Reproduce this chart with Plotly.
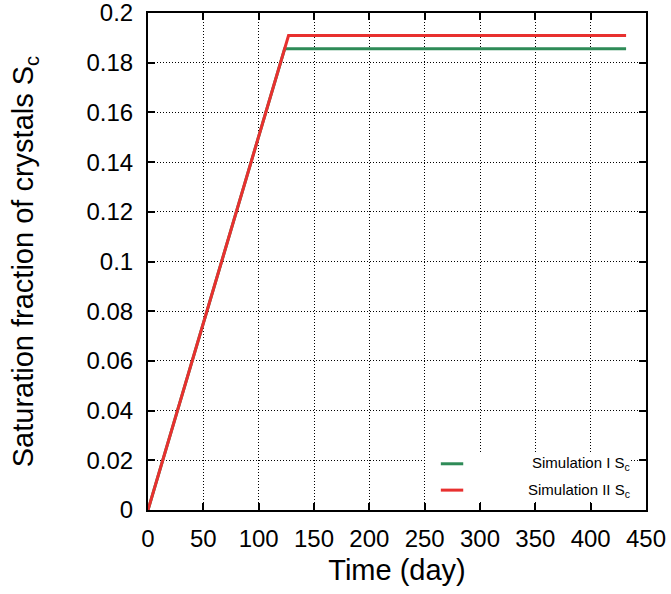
import plotly.graph_objects as go

time_I = [0, 123.5, 432]
sc_I = [0, 0.1856, 0.1856]
time_II = [0, 127, 432]
sc_II = [0, 0.1909, 0.1909]
series_names = ["Simulation I S<sub>c</sub>", "Simulation II S<sub>c</sub>"]
colors = ["#2e8b57", "#e8302f"]
x_ticks = [0, 50, 100, 150, 200, 250, 300, 350, 400, 450]
y_ticks = [0, 0.02, 0.04, 0.06, 0.08, 0.1, 0.12, 0.14, 0.16, 0.18, 0.2]
y_tick_text = ["0", "0.02", "0.04", "0.06", "0.08", "0.1", "0.12", "0.14", "0.16", "0.18", "0.2"]

fig = go.Figure()
fig.add_trace(go.Scatter(x=time_I, y=sc_I, mode="lines", line=dict(color=colors[0], width=3),
                         name=series_names[0], showlegend=False))
fig.add_trace(go.Scatter(x=time_II, y=sc_II, mode="lines", line=dict(color=colors[1], width=3),
                         name=series_names[1], showlegend=False))

font = "Liberation Sans, Arial, Helvetica, sans-serif"
axis_common = dict(showline=True, linecolor="black", linewidth=2, mirror="ticks",
                   ticks="inside", ticklen=7, tickwidth=2, tickcolor="black",
                   showgrid=True, gridcolor="black", gridwidth=1, griddash="1px,2px",
                   zeroline=False, automargin=False, ticklabeloverflow="allow",
                   tickfont=dict(size=24, color="black", family=font))
fig.update_xaxes(range=[0, 450], tickvals=x_ticks, ticklabelstandoff=6,
                 title=dict(text="Time (day)", font=dict(size=29, color="black", family=font), standoff=9),
                 **axis_common)
fig.update_yaxes(range=[0, 0.2], tickvals=y_ticks, ticktext=y_tick_text, ticklabelstandoff=8,
                 title=dict(text="Saturation fraction of crystals S<sub>c</sub>", font=dict(size=29, color="black", family=font), standoff=44),
                 **axis_common)

# legend drawn manually (white box, sample line + right-aligned label)
fig.add_shape(type="rect", xref="paper", yref="paper", x0=0.56, x1=0.967, y0=0.017, y1=0.115,
              fillcolor="white", line=dict(width=0), layer="above")
leg_y = [0.093, 0.040]
for i in range(2):
    fig.add_shape(type="line", xref="paper", yref="paper", x0=0.588, x1=0.633, y0=leg_y[i], y1=leg_y[i],
                  line=dict(color=colors[i], width=3))
    fig.add_annotation(xref="paper", yref="paper", x=0.972, y=leg_y[i], text=series_names[i],
                       showarrow=False, xanchor="right", yanchor="middle",
                       font=dict(size=15, color="black", family=font))

fig.update_layout(width=671, height=594, plot_bgcolor="white", paper_bgcolor="white",
                  margin=dict(l=148, r=25, t=13, b=84), font=dict(family=font))
fig.write_html("out.html", config={"displayModeBar": False},
               post_script="document.body.style.margin='0';")
